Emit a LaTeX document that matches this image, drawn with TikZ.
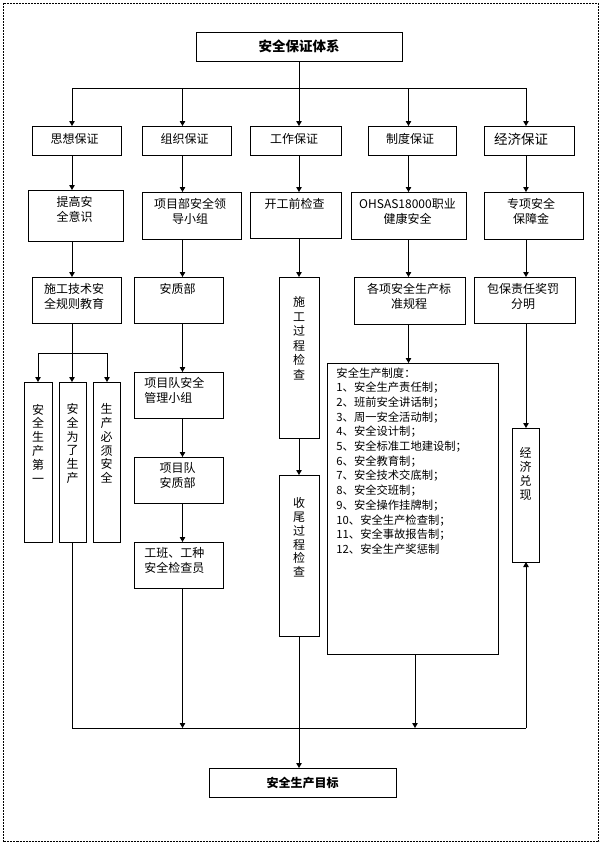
\documentclass[tikz,border=0pt]{standalone}
\usepackage{fontspec}
\setmainfont{Noto Sans CJK SC}
\usetikzlibrary{arrows.meta}
\begin{document}
\begin{tikzpicture}[x=1pt,y=-1pt,line width=0.9pt,
  box/.style={draw,inner sep=0pt,outer sep=0pt},
  t12/.style={inner sep=0pt,align=center,font=\fontsize{12pt}{15pt}\selectfont},
  vt/.style={inner sep=0pt,align=center,font=\fontsize{12pt}{13.8pt}\selectfont},
  vtb/.style={inner sep=0pt,align=center,font=\fontsize{12pt}{14.5pt}\selectfont},
  arr/.style={-{Triangle[width=5.5pt,length=5pt]}}]
\useasboundingbox (0,0) rectangle (601,844);
\draw[line width=0.9pt,dash pattern=on 2pt off 1pt] (3,3) rectangle (598.5,841.5);

% title
\node[box,minimum width=206pt,minimum height=29pt,font=\fontsize{13.5pt}{15pt}\selectfont\bfseries] (title) at (299,46.5) {安全保证体系};

% level 1
\node[box,minimum width=89pt,minimum height=29pt,t12] (a1) at (76.5,140.5) {};
\node[t12] (a1t) at (74.5,139) {思想保证};
\node[box,minimum width=89pt,minimum height=29pt] (a2) at (186.5,140.5) {};
\node[t12] (a2t) at (184.5,139) {组织保证};
\node[box,minimum width=91pt,minimum height=29pt] (a3) at (295.5,140.5) {};
\node[t12] (a3t) at (294,139) {工作保证};
\node[box,minimum width=88pt,minimum height=29pt] (a4) at (412,140.5) {};
\node[t12] (a4t) at (410,139) {制度保证};
\node[box,minimum width=90pt,minimum height=29pt] (a5) at (529,140.5) {};
\node[t12,font=\fontsize{13.5pt}{15pt}\selectfont] (a5t) at (521,139) {经济保证};

% level 2
\node[box,minimum width=95pt,minimum height=51pt] (b1) at (75.5,215.5) {};
\node[t12] (b1t) at (74.5,209.5) {提高安\\全意识};
\node[box,minimum width=99pt,minimum height=47pt] (b2) at (191.5,215.5) {};
\node[t12] (b2t) at (190,211.5) {项目部安全领\\导小组};
\node[box,minimum width=91pt,minimum height=46pt] (b3) at (295.5,215) {};
\node[t12] (b3t) at (294.5,204) {开工前检查};
\node[box,minimum width=115pt,minimum height=47pt] (b4) at (408.5,215.5) {};
\node[t12] (b4t) at (407.5,211.5) {OHSAS18000职业\\健康安全};
\node[box,minimum width=99pt,minimum height=47pt] (b5) at (533.5,215.5) {};
\node[t12] (b5t) at (531,211.5) {专项安全\\保障金};

% level 3
\node[box,minimum width=89pt,minimum height=46pt] (c1) at (76.5,300) {};
\node[t12] (c1t) at (74,296) {施工技术安\\全规则教育};
\node[box,minimum width=89pt,minimum height=46pt] (c2) at (178.5,300) {};
\node[t12] (c2t) at (177.5,289) {安质部};
\node[box,minimum width=40pt,minimum height=161pt] (c3) at (299,357.5) {};
\node[vtb] (c3t) at (299,338) {施\\工\\过\\程\\检\\查};
\node[box,minimum width=111pt,minimum height=47pt] (c4) at (409.5,300.5) {};
\node[t12] (c4t) at (409,296) {各项安全生产标\\准规程};
\node[box,minimum width=101pt,minimum height=46pt] (c5) at (524.5,300) {};
\node[t12] (c5t) at (523,296) {包保责任奖罚\\分明};

% left vertical boxes
\node[box,minimum width=28pt,minimum height=160pt] (v1) at (38,462) {};
\node[vt] (v1t) at (38,443.5) {安\\全\\生\\产\\第\\一};
\node[box,minimum width=27pt,minimum height=160pt] (v2) at (72.5,462) {};
\node[vt] (v2t) at (72.5,443.5) {安\\全\\为\\了\\生\\产};
\node[box,minimum width=27pt,minimum height=160pt] (v3) at (106.5,462) {};
\node[vt] (v3t) at (106.5,443.5) {生\\产\\必\\须\\安\\全};

% column 2 lower
\node[box,minimum width=89pt,minimum height=46pt] (d1) at (178.5,395) {};
\node[t12,align=left,anchor=west] (d1t) at (144,390.5) {项目队安全\\管理小组};
\node[box,minimum width=89pt,minimum height=46pt] (d2) at (178.5,480) {};
\node[t12] (d2t) at (177.5,475.5) {项目队\\安质部};
\node[box,minimum width=89pt,minimum height=46pt] (d3) at (178.5,565) {};
\node[t12,align=left,anchor=west] (d3t) at (144,560.5) {工班、工种\\安全检查员};

% column 3 lower
\node[box,minimum width=40pt,minimum height=161pt] (e1) at (299,555.5) {};
\node[vt] (e1t) at (299,537.5) {收\\尾\\过\\程\\检\\查};

% big box
\node[box,minimum width=171pt,minimum height=291pt] (big) at (412.5,508.5) {};
\node[inner sep=0pt,align=left,anchor=west,font=\fontsize{11.3pt}{14.67pt}\selectfont] (bigt) at (336,461) {安全生产制度：\\
1、安全生产责任制；\\
2、班前安全讲话制；\\
3、周一安全活动制；\\
4、安全设计制；\\
5、安全标准工地建设制；\\
6、安全教育制；\\
7、安全技术交底制；\\
8、安全交班制；\\
9、安全操作挂牌制；\\
10、安全生产检查制；\\
11、安全事故报告制；\\
12、安全生产奖惩制};

% economic realisation
\node[box,minimum width=27pt,minimum height=134pt] (jj) at (525.5,495) {};
\node[vt,font=\fontsize{12pt}{14pt}\selectfont] (jjt) at (525.5,473.5) {经\\济\\兑\\现};

% goal
\node[box,minimum width=187pt,minimum height=29pt,font=\fontsize{12pt}{15pt}\selectfont\bfseries] (goal) at (302.5,782.5) {安全生产目标};

% coordinates
\coordinate (hL) at (72,88);
\coordinate (h2) at (182.5,88);
\coordinate (hC) at (299,88);
\coordinate (h4) at (408.5,88);
\coordinate (hR) at (526,88);
\coordinate (bkL) at (38,353);
\coordinate (bkR) at (107,353);
\coordinate (bL) at (72,728);
\coordinate (bX) at (415,728);
\coordinate (bR) at (526,728);

% top distribution
\draw (title.south) -- (hC);
\draw (hL) -- (hR);
\foreach \c/\n in {hL/a1,h2/a2,hC/a3,h4/a4,hR/a5}
  \draw[arr] (\c) -- (\c |- \n.north);

% column 1
\draw[arr] (a1.south -| hL) -- (b1.north -| hL);
\draw[arr] (b1.south -| hL) -- (c1.north -| hL);
\draw[arr] (c1.south -| hL) -- (v2.north -| hL);
\draw (bkL) -- (bkR);
\draw[arr] (bkL) -- (v1.north -| bkL);
\draw[arr] (bkR) -- (v3.north -| bkR);

% column 2
\draw[arr] (a2.south -| h2) -- (b2.north -| h2);
\draw[arr] (b2.south -| h2) -- (c2.north -| h2);
\draw[arr] (c2.south -| h2) -- (d1.north -| h2);
\draw[arr] (d1.south -| h2) -- (d2.north -| h2);
\draw[arr] (d2.south -| h2) -- (d3.north -| h2);
\draw[arr] (d3.south -| h2) -- (h2 |- bL);

% column 3
\draw[arr] (a3.south -| hC) -- (b3.north -| hC);
\draw[arr] (b3.south -| hC) -- (c3.north -| hC);
\draw[arr] (c3.south -| hC) -- (e1.north -| hC);
\draw[arr] (e1.south -| hC) -- (goal.north -| hC);

% column 4
\draw[arr] (a4.south -| h4) -- (b4.north -| h4);
\draw[arr] (b4.south -| h4) -- (c4.north -| h4);
\draw[arr] (c4.south -| h4) -- (big.north -| h4);
\draw[arr] (big.south -| bX) -- (bX);

% column 5
\draw[arr] (a5.south -| hR) -- (b5.north -| hR);
\draw[arr] (b5.south -| hR) -- (c5.north -| hR);
\draw[arr] (c5.south -| hR) -- (jj.north -| hR);

% bottom collector
\draw (v2.south -| hL) -- (bL) -- (bR);
\draw[arr] (bR) -- (jj.south -| bR);
\end{tikzpicture}
\end{document}
